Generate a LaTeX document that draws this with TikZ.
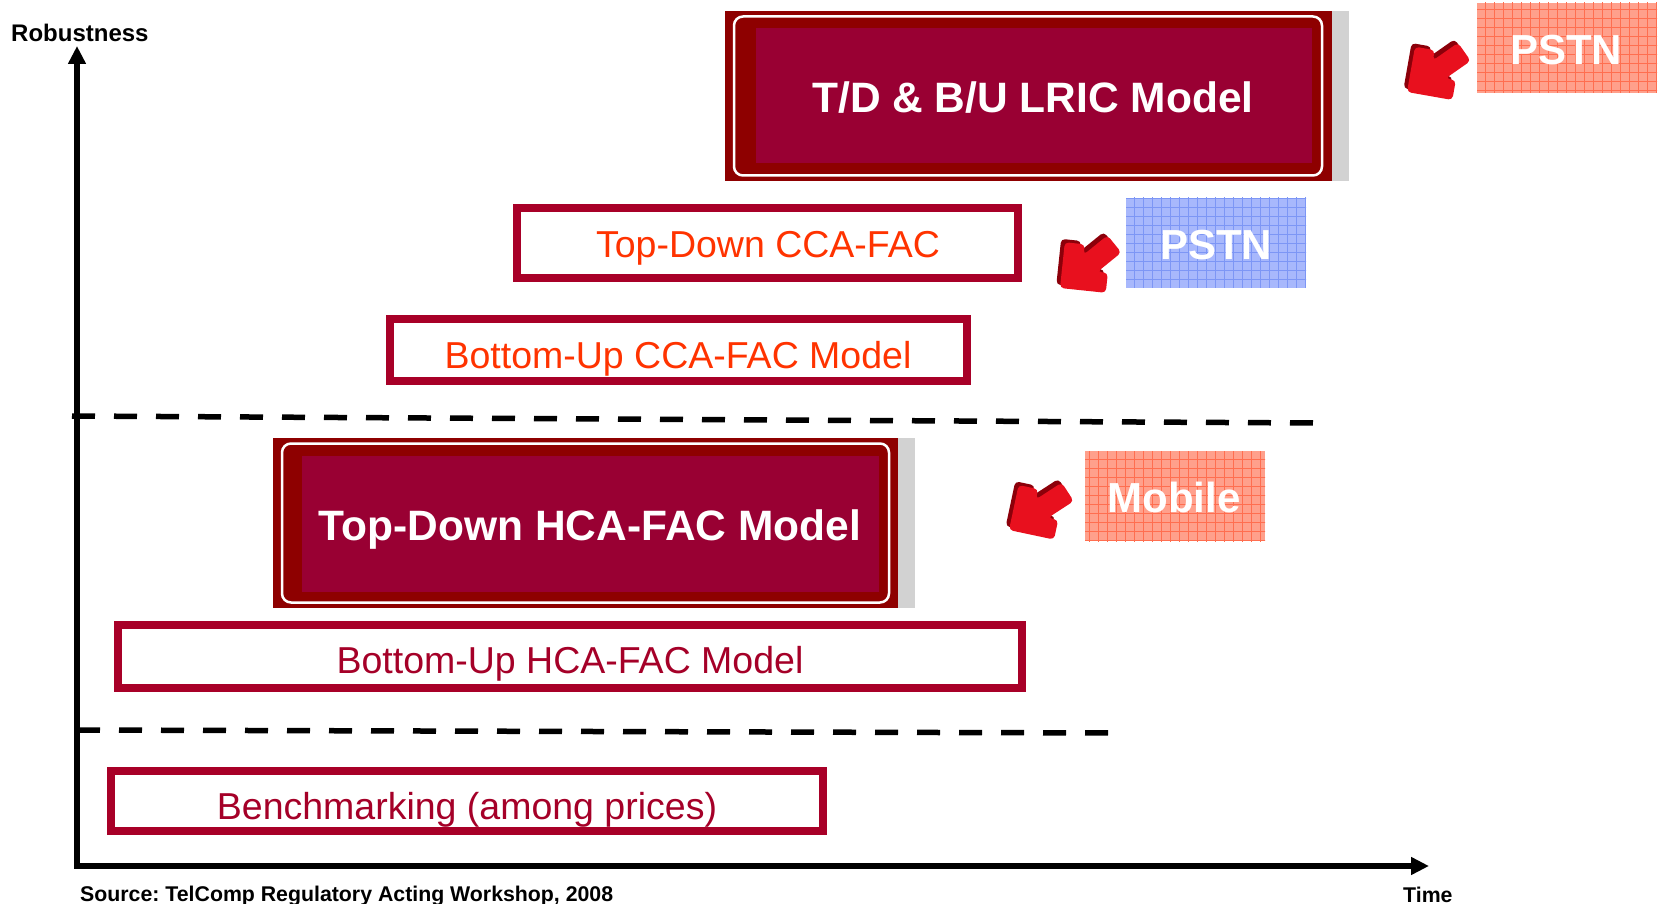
\documentclass[tikz,border=0pt]{standalone}
\usepackage{fontspec}
\setmainfont{Liberation Sans}
\usetikzlibrary{arrows.meta}
\frenchspacing
\definecolor{frame}{RGB}{142,0,0}
\definecolor{crimson}{RGB}{153,0,51}
\definecolor{boxred}{RGB}{168,0,40}
\definecolor{orangetxt}{RGB}{255,51,0}
\definecolor{crimtxt}{RGB}{165,0,40}
\definecolor{salmon}{RGB}{255,160,140}
\definecolor{salmongrid}{RGB}{255,110,80}
\definecolor{bluefill}{RGB}{168,184,252}
\definecolor{bluegrid}{RGB}{125,150,245}
\definecolor{arrred}{RGB}{232,16,30}
\definecolor{arrdark}{RGB}{140,0,10}
\definecolor{shadowgray}{RGB}{210,210,210}
\tikzset{
  outbox/.style={draw=boxred, line width=8pt, fill=white, inner sep=0pt},
  boxtxt/.style={inner sep=0pt, font=\fontsize{37.5}{44}\selectfont},
  boldtxt/.style={text=white, font=\bfseries\fontsize{42.5}{50}\selectfont, inner sep=0pt},
  patttxt/.style={text=white, font=\bfseries\fontsize{42}{50}\selectfont, inner sep=0pt},
  axis/.style={line width=6pt, miter limit=10, {Triangle[length=18pt,width=17pt]}-{Triangle[length=18pt,width=17pt]}},
  dashline/.style={line width=5.5pt, dash pattern=on 23pt off 19pt},
  smalltxt/.style={anchor=base west, inner sep=0pt, font=\bfseries\fontsize{21.3}{25}\selectfont},
  gridline/.style={line width=0.8pt, step=9pt},
  bentarrow/.pic={
    \fill[arrdark, rounded corners=4pt, shift={(-4,-3)}] (0,0) -- (46,0) -- (46,-20) -- (35.6,-20) -- (57.3,-41.7) -- (41.7,-57.3) -- (20,-35.6) -- (20,-46) -- (0,-46) -- cycle;
    \fill[arrred, rounded corners=4pt] (0,0) -- (46,0) -- (46,-20) -- (35.6,-20) -- (57.3,-41.7) -- (41.7,-57.3) -- (20,-35.6) -- (20,-46) -- (0,-46) -- cycle;
  }
}
\begin{document}
\begin{tikzpicture}[x=1pt,y=-1pt]
\useasboundingbox (0,0) rectangle (1658,904);

% axes
\coordinate (ytip) at (77,46);
\coordinate (origin) at (77,866);
\coordinate (xtip) at (1429,866);
\draw[axis] (ytip) -- (origin) -- (xtip);
\node[anchor=base west, inner sep=0pt, font=\bfseries\fontsize{24}{28}\selectfont] (rob) at (11,42) {Robustness};
\node[smalltxt] (src) at (80,901) {Source: TelComp Regulatory Acting Workshop, 2008};
\node[smalltxt] (time) at (1403,902) {Time};

% dashed separators
\coordinate (d1a) at (72,416);
\coordinate (d1b) at (1314,423);
\draw[dashline] (d1a) -- (d1b);
\coordinate (d2a) at (77,730);
\coordinate (d2b) at (1112,733);
\draw[dashline] (d2a) -- (d2b);

% LRIC box
\fill[shadowgray] (1332,11) rectangle (1349,181);
\fill[frame] (725,11) rectangle (1332,181);
\draw[white, line width=2.5pt, rounded corners=9pt] (734,16.5) rectangle (1322,175.5);
\fill[crimson] (756,28) rectangle (1312,163);
\node[boldtxt] (lric) at (1033,98) {T/D \& B/U LRIC Model};

% Top-Down HCA box
\fill[shadowgray] (898,438) rectangle (915,608);
\fill[frame] (273,438) rectangle (898,608);
\draw[white, line width=2.5pt, rounded corners=9pt] (282,443.5) rectangle (889,602.5);
\fill[crimson] (302,456) rectangle (879,592);
\node[boldtxt] (tdhca) at (590,530) {Top-Down HCA-FAC Model};

% outline boxes
\node[outbox, minimum width=501pt, minimum height=70pt] (tdcca) at (767.5,243) {};
\node[boxtxt, text=orangetxt] (tdccatxt) at (768,248) {Top-Down CCA-FAC};
\node[outbox, minimum width=577pt, minimum height=62pt] (bucca) at (678.5,350) {};
\node[boxtxt, text=orangetxt] (buccatxt) at (678,359) {Bottom-Up CCA-FAC Model};
\node[outbox, minimum width=904pt, minimum height=63pt] (buhca) at (570,656.5) {};
\node[boxtxt, text=crimtxt] (buhcatxt) at (570,664) {Bottom-Up HCA-FAC Model};
\node[outbox, minimum width=712pt, minimum height=60pt] (bench) at (467,801) {};
\node[boxtxt, text=crimtxt] (benchtxt) at (467,809.5) {Benchmarking (among prices)};

% patterned labels
\begin{scope}
\clip (1477,3) rectangle (1657,93);
\fill[salmon] (1477,3) rectangle (1657,93);
\draw[salmongrid, gridline] (1470,0) grid (1660,100);
\end{scope}
\node[patttxt] (pstn1) at (1566,50) {PSTN};

\begin{scope}
\clip (1126,198) rectangle (1306,288);
\fill[bluefill] (1126,198) rectangle (1306,288);
\draw[bluegrid, gridline] (1120,190) grid (1310,290);
\end{scope}
\node[patttxt] (pstn2) at (1216,245) {PSTN};

\begin{scope}
\clip (1085,451) rectangle (1265,541);
\fill[salmon] (1085,451) rectangle (1265,541);
\draw[salmongrid, gridline] (1080,445) grid (1270,545);
\end{scope}
\node[patttxt] (mobile) at (1174,497) {Mobile};

% red bent arrows
\pic[rotate=-10] (arr1) at (1407,92) {bentarrow};
\pic[rotate=-6] (arr2) at (1060,288) {bentarrow};
\pic[rotate=-12] (arr3) at (1009,530) {bentarrow};
\end{tikzpicture}
\end{document}
